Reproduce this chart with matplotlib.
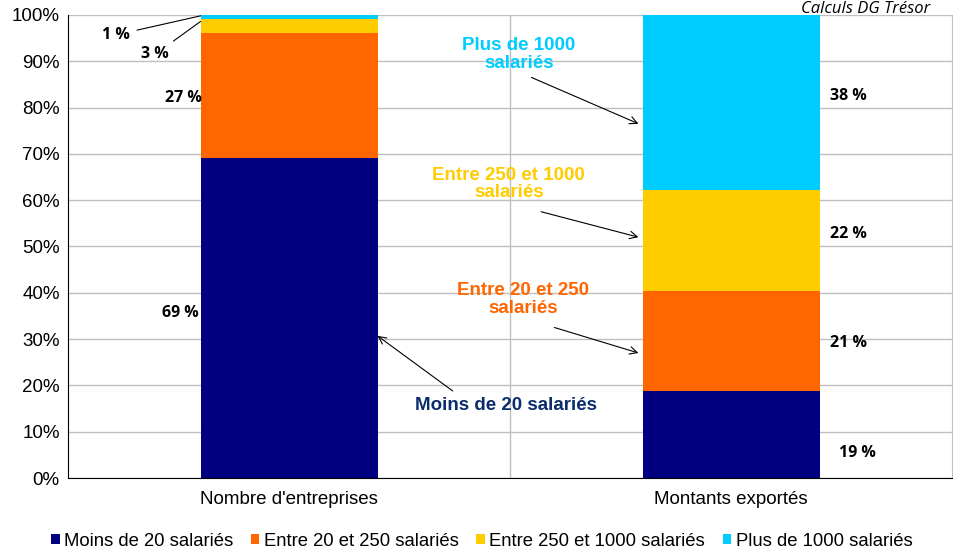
import matplotlib as mpl
mpl.use("Agg")
import matplotlib.pyplot as plt
import numpy as np

mpl.rcParams.update({
	"font.family": ["Liberation Sans", "DejaVu Sans"],
	"font.size": 13.5,
})

categories = ["Nombre d'entreprises", "Montants exportés"]
series = ["Moins de 20 salariés", "Entre 20 et 250 salariés",
	"Entre 250 et 1000 salariés", "Plus de 1000 salariés"]
colors = ["#000080", "#FF6600", "#FFCC00", "#00CCFF"]

# share of each size class, in percent
entreprises = [69.1, 27.0, 3.0, 0.9]
exports = [18.8, 21.6, 21.8, 37.8]
labels_entreprises = ["69 %", "27 %", "3 %", "1 %"]
labels_exports = ["19 %", "21 %", "22 %", "38 %"]

fig = plt.figure(figsize=(9.54, 5.52), dpi=100)
ax = fig.add_axes([0.0713, 0.134, 0.927, 0.839])

x = np.arange(len(categories))
values = np.array([entreprises, exports]).T
bottom = np.zeros(len(categories))
for i, name in enumerate(series):
	ax.bar(x, values[i], 0.4, bottom=bottom, color=colors[i], label=name, zorder=2)
	bottom += values[i]

ax.set_xlim(-0.5, 1.5)
ax.set_ylim(0, 100)
ax.set_yticks(np.arange(0, 101, 10))
ax.set_yticklabels(["%d%%" % v for v in range(0, 101, 10)])
ax.set_xticks(x)
ax.set_xticklabels(categories)
ax.tick_params(axis="both", length=0, labelsize=13.5)
ax.tick_params(axis="x", pad=9)
ax.tick_params(axis="y", pad=6)
ax.grid(axis="y", color="#BFBFBF", linewidth=1, zorder=0)
ax.axvline(0.5, color="#BFBFBF", linewidth=1, zorder=0)
ax.spines["top"].set_visible(False)
ax.spines["right"].set_color("#BFBFBF")
ax.spines["left"].set_color("black")
ax.spines["bottom"].set_color("black")

# percent labels, left bar
lab = dict(fontsize=11.5, fontweight="bold", family=["Open Sans", "DejaVu Sans"])
cum = np.cumsum(entreprises)
ax.text(-0.247, cum[0] / 2 + 1, labels_entreprises[0], ha="center", va="center", **lab)
ax.text(-0.24, (cum[0] + cum[1]) / 2 - 0.5, labels_entreprises[1], ha="center", va="center", **lab)
ax.annotate(labels_entreprises[2], xy=(-0.2, cum[2] - 0.5), xytext=(-0.303, 91.5),
	ha="center", va="center", arrowprops=dict(arrowstyle="-", color="black", lw=0.8,
	shrinkA=3, shrinkB=0), **lab)
ax.annotate(labels_entreprises[3], xy=(-0.2, 99.8), xytext=(-0.391, 95.7),
	ha="center", va="center", arrowprops=dict(arrowstyle="-", color="black", lw=0.8,
	shrinkA=3, shrinkB=0), **lab)

# percent labels, right bar
cum = np.cumsum(exports)
ax.text(1.285, 5.5, labels_exports[0], ha="center", va="center", **lab)
ax.text(1.265, (cum[0] + cum[1]) / 2 - 0.5, labels_exports[1], ha="center", va="center", **lab)
ax.text(1.265, (cum[1] + cum[2]) / 2 + 1.5, labels_exports[2], ha="center", va="center", **lab)
ax.text(1.265, 82.5, labels_exports[3], ha="center", va="center", **lab)

# series callouts
arrow = dict(arrowstyle="->", color="black", lw=0.8, shrinkA=0, shrinkB=0)
ann = dict(fontsize=13.5, fontweight="bold", ha="center", va="center", linespacing=1.05)
ax.annotate("Plus de 1000\nsalariés", xy=(0.79, 76.5), xytext=(0.52, 91.5),
	color="#00CCFF", **ann)
ax.annotate("", xy=(0.79, 76.5), xytext=(0.548, 86.5), arrowprops=arrow)
ax.annotate("Entre 250 et 1000\nsalariés", xy=(0.79, 52), xytext=(0.497, 63.5),
	color="#FFCC00", **ann)
ax.annotate("", xy=(0.79, 52), xytext=(0.57, 57.5), arrowprops=arrow)
ax.annotate("Entre 20 et 250\nsalariés", xy=(0.79, 27), xytext=(0.53, 38.5),
	color="#FF6600", **ann)
ax.annotate("", xy=(0.79, 27), xytext=(0.6, 32.5), arrowprops=arrow)
ax.annotate("Moins de 20 salariés", xy=(0.2, 30.7), xytext=(0.49, 15.6),
	color="#0B2D6B", **ann)
ax.annotate("", xy=(0.2, 30.7), xytext=(0.37, 18.8), arrowprops=arrow)

fig.text(0.975, 0.999, "Calculs DG Trésor", ha="right", va="top",
	fontsize=12, style="italic", family=["Open Sans", "DejaVu Sans"])

ax.legend(loc="center", bbox_to_anchor=(0.468, -0.136), ncol=4, frameon=False,
	handlelength=0.45, handleheight=0.45, handletextpad=0.25, columnspacing=0.95,
	fontsize=13.3, borderaxespad=0)

fig.savefig("out.png")
